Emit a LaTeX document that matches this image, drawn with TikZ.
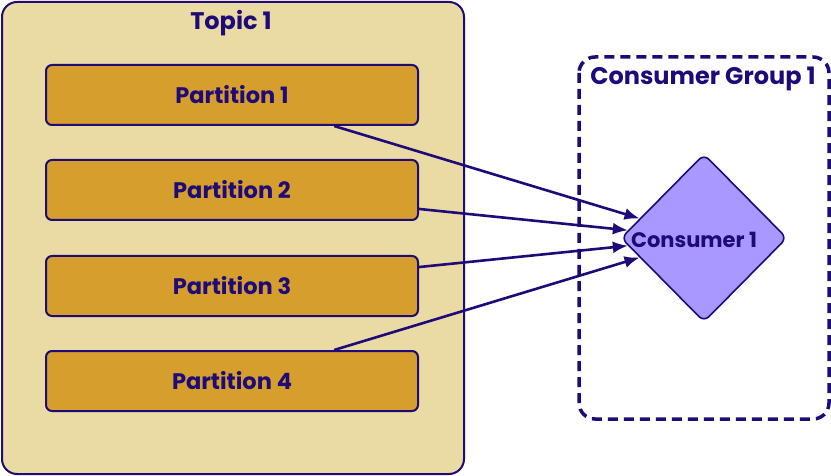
\documentclass[tikz,border=0pt]{standalone}
\usepackage{fontspec}
\setmainfont{Poppins}[BoldFont={* Bold}]
\usetikzlibrary{shapes.geometric,arrows.meta}
\definecolor{ink}{HTML}{1E0A78}
\definecolor{topicfill}{HTML}{EADBA4}
\definecolor{partfill}{HTML}{D69E2C}
\definecolor{consfill}{HTML}{A898FF}
\tikzset{
  topicbox/.style={draw=ink, line width=2pt, fill=topicfill, rounded corners=15pt},
  partbox/.style={draw=ink, line width=2pt, fill=partfill, rounded corners=6pt,
    minimum width=372pt, minimum height=60pt, inner sep=0pt,
    font=\fontsize{22.5}{26}\selectfont\bfseries, text=ink},
  groupbox/.style={draw=ink, line width=3.5pt, dash pattern=on 10pt off 6pt, rounded corners=16pt},
  title/.style={font=\fontsize{24}{28}\selectfont\bfseries, text=ink},
  consumer/.style={diamond, draw=ink, line width=1.6pt, fill=consfill, rounded corners=7pt,
    minimum width=166pt, minimum height=168pt, inner sep=0pt, aspect=1},
  consumertext/.style={font=\fontsize{21}{24}\selectfont\bfseries, text=ink, inner sep=0pt},
  feed/.style={draw=ink, line width=2.6pt, -{Latex[length=15pt,width=12pt]}}
}
\begin{document}
\begin{tikzpicture}[x=1pt,y=-1pt]
\useasboundingbox (0,0) rectangle (831,476);
% topic container
\draw[topicbox] (2,2) rectangle (464,474);
\node[title] (topic) at (231,23) {Topic 1};
% partitions
\node[partbox] (p1) at (232,95) {Partition 1};
\node[partbox] (p2) at (232,190) {Partition 2};
\node[partbox] (p3) at (232,286) {Partition 3};
\node[partbox] (p4) at (232,381) {Partition 4};
% consumer group
\draw[groupbox] (579,57) rectangle (829,419);
\node[title] (group) at (703,79) {Consumer Group 1};
\node[consumer] (c1) at (704,238) {};
\node[consumertext] (c1label) at (694,240) {Consumer 1};
% partition to consumer links
\draw[feed] (p1) -- (c1);
\draw[feed] (p2) -- (c1);
\draw[feed] (p3) -- (c1);
\draw[feed] (p4) -- (c1);
\end{tikzpicture}
\end{document}
